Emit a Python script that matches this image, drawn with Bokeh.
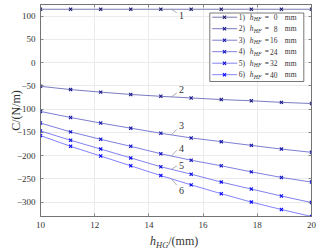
import numpy as np
from bokeh.plotting import figure
from bokeh.models import Range1d, LinearAxis, FixedTicker, Label, Div
from bokeh.layouts import column
from bokeh.embed import file_html
from bokeh.resources import INLINE

# ---------------- data ----------------
h_hg = [10.0, 11.11, 12.22, 13.33, 14.44, 15.56, 16.67, 17.78, 18.89, 20.0]
c_hf0 = [114.8, 114.8, 114.8, 114.8, 114.8, 114.8, 114.8, 114.8, 114.8, 114.8]
c_hf8 = [-51, -58, -63.5, -68.5, -72.5, -76, -79.5, -82, -85.5, -88]
c_hf16 = [-105, -118, -130, -141, -152, -162, -170, -178, -186, -193]
c_hf24 = [-130, -149, -165, -180, -196, -210, -222, -235, -247, -257]
c_hf32 = [-147, -167, -186, -205, -224, -240, -257, -272, -287, -301]
c_hf40 = [-157, -180, -201, -222, -243, -263, -282, -300, -316, -331]
series_ids = ["1", "2", "3", "4", "5", "6"]
hf_values = ["0", "8", "16", "24", "32", "40"]
x_ticks = [10, 12, 14, 16, 18, 20]
y_ticks = [-300, -250, -200, -150, -100, -50, 0, 50, 100]
x_limits = (10, 20)
y_limits = (-331, 125)
y_title = "C/(N/m)"

# ---------------- styles / layout ----------------
SERIF = "Liberation Serif"
AX = "#6e6e6e"
TXT = "#333333"
LINE_COLORS = ["#6a6aa6", "#6c6cba", "#6f6fcc", "#7171dc", "#7373ee", "#7575ff"]
MARK_COLORS = ["#1e1e6c", "#1a1a8a", "#1515a8", "#1010c6", "#0a0ae2", "#0505ff"]

W, H = 320, 233
DIV_H = 16
BL, BR, BT, BB = 40, 9, 4, 17
FW, FH = W - BL - BR, H - BT - BB

p = figure(width=W, height=H, x_range=Range1d(*x_limits), y_range=Range1d(*y_limits),
           output_backend="svg", toolbar_location=None,
           min_border_left=BL, min_border_right=BR, min_border_top=BT, min_border_bottom=BB,
           background_fill_color="white", border_fill_color="white")
p.extra_x_ranges = {"px": Range1d(0, FW)}
p.extra_y_ranges = {"px": Range1d(FH, 0)}
p.outline_line_color = AX
p.outline_line_width = 0.8

top_ax = LinearAxis()
right_ax = LinearAxis()
p.add_layout(top_ax, "above")
p.add_layout(right_ax, "right")


def style_axis(ax, ticks, show):
    ax.ticker = FixedTicker(ticks=ticks)
    ax.axis_line_color = AX
    ax.axis_line_width = 0.8
    ax.major_tick_line_color = AX
    ax.major_tick_line_width = 0.8
    ax.major_tick_in = 3
    ax.major_tick_out = 0
    ax.minor_tick_line_color = None
    ax.major_label_text_font = SERIF
    ax.major_label_text_font_size = "9px" if show else "0px"
    ax.major_label_text_color = TXT if show else None
    ax.major_label_standoff = 5 if show else 0


style_axis(p.below[0], x_ticks, True)
style_axis(p.left[0], y_ticks, True)
style_axis(top_ax, x_ticks, False)
style_axis(right_ax, y_ticks, False)

yax = p.left[0]
yax.axis_label = y_title
yax.axis_label_text_font = SERIF
yax.axis_label_text_font_size = "12px"
yax.axis_label_text_font_style = "normal"
yax.axis_label_text_color = TXT
yax.axis_label_standoff = -9

p.xgrid.ticker = FixedTicker(ticks=x_ticks)
p.ygrid.ticker = FixedTicker(ticks=y_ticks)
p.xgrid.grid_line_color = "#ebebeb"
p.ygrid.grid_line_color = "#ebebeb"

series = [c_hf0, c_hf8, c_hf16, c_hf24, c_hf32, c_hf40]
for ys, lc, mc in zip(series, LINE_COLORS, MARK_COLORS):
    p.line(h_hg, ys, line_color=lc, line_width=0.9)
    p.scatter(h_hg, ys, marker="x", size=4.5, line_color=mc, line_width=1.1)

# ---------------- series number callouts ----------------
LEAD_X0, LEAD_X1, LABEL_X = 14.83, 15.03, 15.2
LEAD_DY = [-7.5, 8.7, 12.0, 12.3, 7.6, -13.9]
LABEL_DY = [-14.0, 16.3, 19.5, 16.6, 8.6, -24.6]
for ys, sid, ldy, tdy in zip(series, series_ids, LEAD_DY, LABEL_DY):
    y0 = float(np.interp(LEAD_X0, h_hg, ys))
    p.segment(x0=[LEAD_X0], y0=[y0], x1=[LEAD_X1], y1=[y0 + ldy],
              line_color="#8c8c8c", line_width=0.7)
    p.add_layout(Label(x=LABEL_X, y=y0 + tdy, text=sid, text_font=SERIF,
                       text_font_size="10px", text_color=TXT,
                       text_align="center", text_baseline="middle"))

# ---------------- legend (frame pixel space, y down from frame top) ----------------
LEG_L, LEG_R, LEG_T, LEG_B = 169.3, 263.3, 8.5, 77
LEG_Y0, LEG_DY = 12.7, 11.5
leg_y = [LEG_Y0 + LEG_DY * k for k in range(6)]
p.quad(left=[LEG_L], right=[LEG_R], top=[LEG_T], bottom=[LEG_B],
       fill_color="white", line_color="#555555", line_width=0.8,
       x_range_name="px", y_range_name="px")
p.segment(x0=[171.7] * 6, x1=[196.7] * 6, y0=leg_y, y1=leg_y, line_color=LINE_COLORS,
          line_width=0.9, x_range_name="px", y_range_name="px")
p.scatter(x=[184] * 6, y=leg_y, marker="x", size=4.5, line_color=MARK_COLORS,
          line_width=1.1, x_range_name="px", y_range_name="px")


def plabel(x, y, text, size, style="normal", align="left"):
    p.add_layout(Label(x=x, y=y, text=text, x_range_name="px", y_range_name="px",
                       text_font=SERIF, text_font_size=size, text_font_style=style,
                       text_color=TXT, text_align=align, text_baseline="middle"))


for sid, hf, y in zip(series_ids, hf_values, leg_y):
    plabel(198.3, y, sid + ")", "7.5px")
    plabel(209.3, y, "h", "7.5px", "italic")
    plabel(213.3, y + 2, "HF", "5.8px", "italic")
    plabel(224.3, y, "=", "7.5px")
    plabel(237, y, hf, "7.5px", align="right")
    plabel(244.3, y, "mm", "7.5px")

# ---------------- x axis title (HTML, for the subscript) ----------------
x_title = Div(
    text=('<div style="margin-left:150px;margin-top:-3px;line-height:12px;'
          "font-family:'Liberation Serif';font-size:12px;color:#333333;white-space:nowrap\">"
          '<i>h</i><span style="position:relative;top:2.5px;font-size:8.5px;font-style:italic">HG</span>'
          '/(mm)</div>'),
    width=W, height=DIV_H, margin=0)

layout = column(p, x_title, spacing=0)
open("out.html", "w").write(file_html(layout, INLINE))
